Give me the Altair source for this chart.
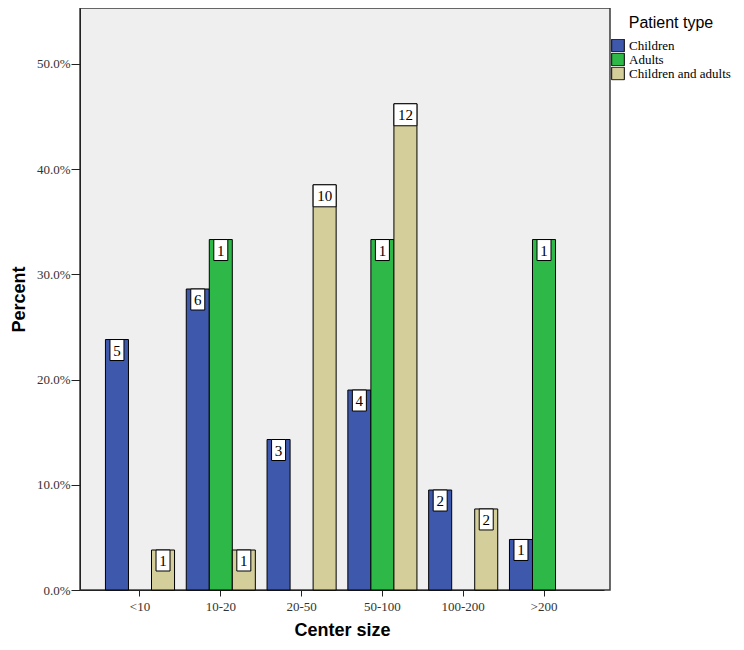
import altair as alt
import pandas as pd

sizes = ["<10", "10-20", "20-50", "50-100", "100-200", ">200"]
types = ["Children", "Adults", "Children and adults"]
children_pct = [23.8, 28.6, 14.3, 19.0, 9.5, 4.8]
children_n = [5, 6, 3, 4, 2, 1]
adults_pct = [None, 33.3, None, 33.3, None, 33.3]
adults_n = [None, 1, None, 1, None, 1]
both_pct = [3.8, 3.8, 38.5, 46.2, 7.7, None]
both_n = [1, 1, 10, 12, 2, None]
colors = ["#3E58AC", "#2EB848", "#D4CE9A"]
y_ticks = [0, 10, 20, 30, 40, 50]

rows = []
for t, pcts, ns in zip(types, [children_pct, adults_pct, both_pct], [children_n, adults_n, both_n]):
    for s, p, n in zip(sizes, pcts, ns):
        if p is not None:
            rows.append({"size": s, "type": t, "pct": p, "n": n})
df = pd.DataFrame(rows)

x = alt.X("size:N", sort=sizes, title="Center size",
          scale=alt.Scale(paddingInner=0.145, paddingOuter=0.315, range=[0, 524]),
          axis=alt.Axis(labelAngle=0, tickSize=6, labelPadding=4, titlePadding=8))
xo = alt.XOffset("type:N", sort=types,
                 scale=alt.Scale(domain=types, paddingInner=0, paddingOuter=0))
y = alt.Y("pct:Q", title="Percent",
          scale=alt.Scale(domain=[0, 55.3], nice=False, zero=True),
          axis=alt.Axis(values=y_ticks, labelExpr="format(datum.value,'.1f')+'%'",
                        grid=False, tickSize=9, labelPadding=1, titlePadding=8))

base = alt.Chart(df)

bars = base.mark_bar(stroke="black", strokeWidth=1).encode(
    x=x, xOffset=xo, y=y,
    color=alt.Color("type:N", scale=alt.Scale(domain=types, range=colors),
                    legend=alt.Legend(title="Patient type", titleFont="Liberation Sans",
                                      titleFontSize=16, titleFontWeight="normal",
                                      titleColor="black", titleAnchor="middle",
                                      labelFont="Liberation Serif", labelFontSize=13,
                                      labelColor="black", symbolType="square",
                                      symbolSize=160, symbolStrokeColor="black",
                                      symbolStrokeWidth=1, symbolOpacity=1,
                                      rowPadding=-2, clipHeight=13, padding=0,
                                      orient="none", legendX=531, legendY=7,
                                      titlePadding=8, labelOffset=4)),
)

box_narrow = base.transform_filter("datum.n < 10").mark_bar(
    width=14, fill="white", stroke="black", strokeWidth=1, y2Offset=21
).encode(x=x, xOffset=xo, y=alt.Y("pct:Q"), y2=alt.Y2("pct:Q"))

box_wide = base.transform_filter("datum.n >= 10").mark_bar(
    width=23, fill="white", stroke="black", strokeWidth=1, y2Offset=22
).encode(x=x, xOffset=xo, y=alt.Y("pct:Q"), y2=alt.Y2("pct:Q"))

labels = base.mark_text(dy=11, baseline="middle", font="Liberation Serif",
                        fontSize=15, color="black").encode(
    x=x, xOffset=xo, y=alt.Y("pct:Q"), text="n:Q")

chart = alt.layer(bars, box_narrow, box_wide, labels).properties(
    width=530, height=582,
    autosize=alt.AutoSizeParams(type="none"),
    padding={"left": 72, "top": 0, "right": 126, "bottom": 52},
    background="white",
).configure_view(
    fill="#EFEFEF", stroke="#3a3a3a", strokeWidth=1.5
).configure_axis(
    domainColor="#222", tickColor="#222", labelFont="Liberation Serif",
    labelFontSize=13, labelColor="#333", titleFont="Liberation Sans",
    titleFontWeight="bold", titleFontSize=18, titleColor="black"
)

chart.save("out.html", embed_options={"renderer": "svg", "actions": False})
